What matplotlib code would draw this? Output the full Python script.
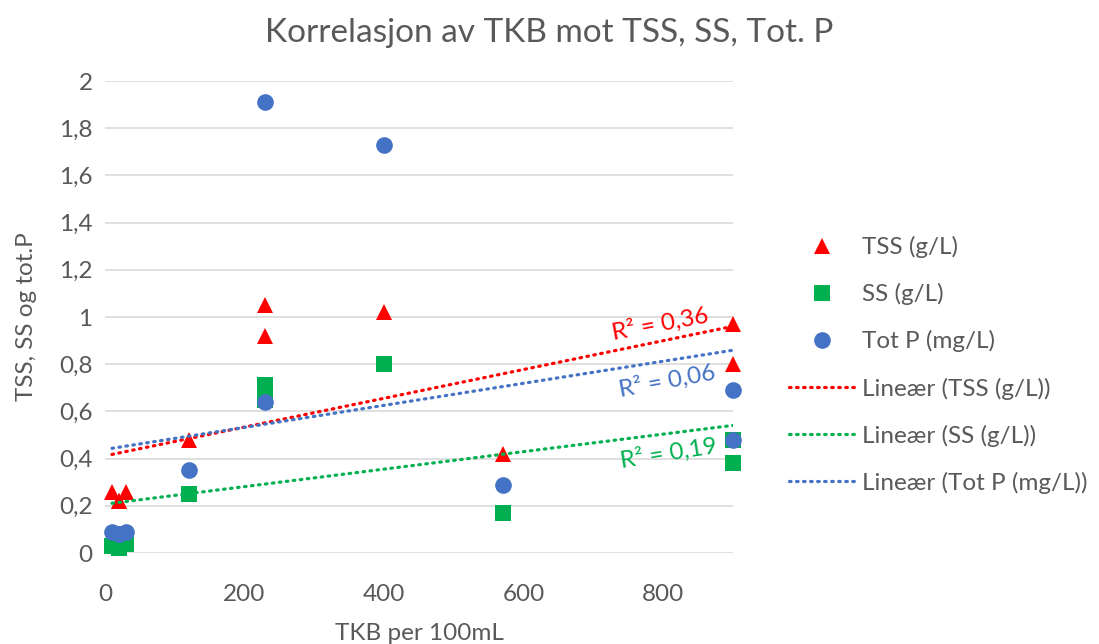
import numpy as np
import matplotlib
matplotlib.use("Agg")
import matplotlib.pyplot as plt
from matplotlib.ticker import FuncFormatter, MultipleLocator

plt.rcParams['font.family'] = ['Lato', 'DejaVu Sans']

# Data
tkb = [10, 20, 20, 30, 120, 230, 230, 400, 570, 900, 900]
tss = [0.26, 0.22, 0.22, 0.26, 0.48, 1.05, 0.92, 1.02, 0.42, 0.97, 0.80]
ss = [0.03, 0.02, 0.02, 0.04, 0.25, 0.71, 0.65, 0.80, 0.17, 0.48, 0.38]
totp = [0.09, 0.08, 0.08, 0.09, 0.35, 1.91, 0.64, 1.73, 0.29, 0.69, 0.48]

series_names = ["TSS (g/L)", "SS (g/L)", "Tot P (mg/L)"]
r2_labels = ["R² = 0,36", "R² = 0,19", "R² = 0,06"]
title = "Korrelasjon av TKB mot TSS, SS, Tot. P"
xlabel = "TKB per 100mL"
ylabel = "TSS, SS og tot.P"

red = "#FF0000"
green = "#00B050"
blue = "#4472C4"
gray = "#595959"
FS = 17.5

fig = plt.figure(figsize=(10.99, 6.44), dpi=100)
ax = fig.add_axes([105/1099, 1-553/644, (733-105)/1099, (553-81)/644])

x = np.array(tkb, dtype=float)
data = [np.array(tss), np.array(ss), np.array(totp)]
colors = [red, green, blue]
markers = ["^", "s", "o"]
msizes = [12, 11, 12]

handles_pts = []
for y, c, m, ms, name in zip(data, colors, markers, msizes, series_names):
    h, = ax.plot(x, y, linestyle="none", marker=m, markersize=ms, color=c,
                 markeredgewidth=0, label=name, zorder=3, clip_on=False)
    handles_pts.append(h)

handles_tr = []
xs = np.array([x.min(), x.max()])
for y, c, name in zip(data, colors, series_names):
    k, b = np.polyfit(x, y, 1)
    h, = ax.plot(xs, k*xs + b, color=c, linewidth=2.3, linestyle=(0, (0.5, 1.7)),
                 dash_capstyle="round", label="Lineær (" + name + ")", zorder=4)
    handles_tr.append(h)

# R² labels
ax.text(795, 0.970, r2_labels[0], color=red, fontsize=FS, rotation=10.5,
        ha="center", va="center", rotation_mode="anchor")
ax.text(805, 0.729, r2_labels[2], color=blue, fontsize=FS, rotation=10.5,
        ha="center", va="center", rotation_mode="anchor")
ax.text(808, 0.424, r2_labels[1], color=green, fontsize=FS, rotation=9,
        ha="center", va="center", rotation_mode="anchor")

ax.set_xlim(0, 900)
ax.set_ylim(0, 2)
ax.xaxis.set_major_locator(MultipleLocator(200))
ax.yaxis.set_major_locator(MultipleLocator(0.2))
ax.yaxis.set_major_formatter(FuncFormatter(lambda v, p: ("%g" % round(v, 1)).replace(".", ",")))
ax.grid(axis="y", color="#d9d9d9", linewidth=1.2)
ax.set_axisbelow(True)
for s in ax.spines.values():
    s.set_visible(False)
ax.tick_params(length=0, labelsize=FS, colors=gray)
ax.tick_params(axis="y", pad=9)
ax.tick_params(axis="x", pad=22)

ax.set_xlabel(xlabel, fontsize=FS, color=gray, labelpad=13)
ax.set_ylabel(ylabel, fontsize=FS, color=gray, labelpad=16)
fig.suptitle(title, fontsize=24, color=gray, x=0.5, y=0.972)

order = handles_pts + handles_tr
leg = fig.legend(handles=order, labels=[h.get_label() for h in order],
                 loc="center left", bbox_to_anchor=(782/1099, 1-365/644),
                 frameon=False, fontsize=FS, labelspacing=1.03,
                 handlelength=2.7, handletextpad=0.3, labelcolor=gray,
                 borderaxespad=0, borderpad=0.3)

fig.savefig("out.png", dpi=100)
